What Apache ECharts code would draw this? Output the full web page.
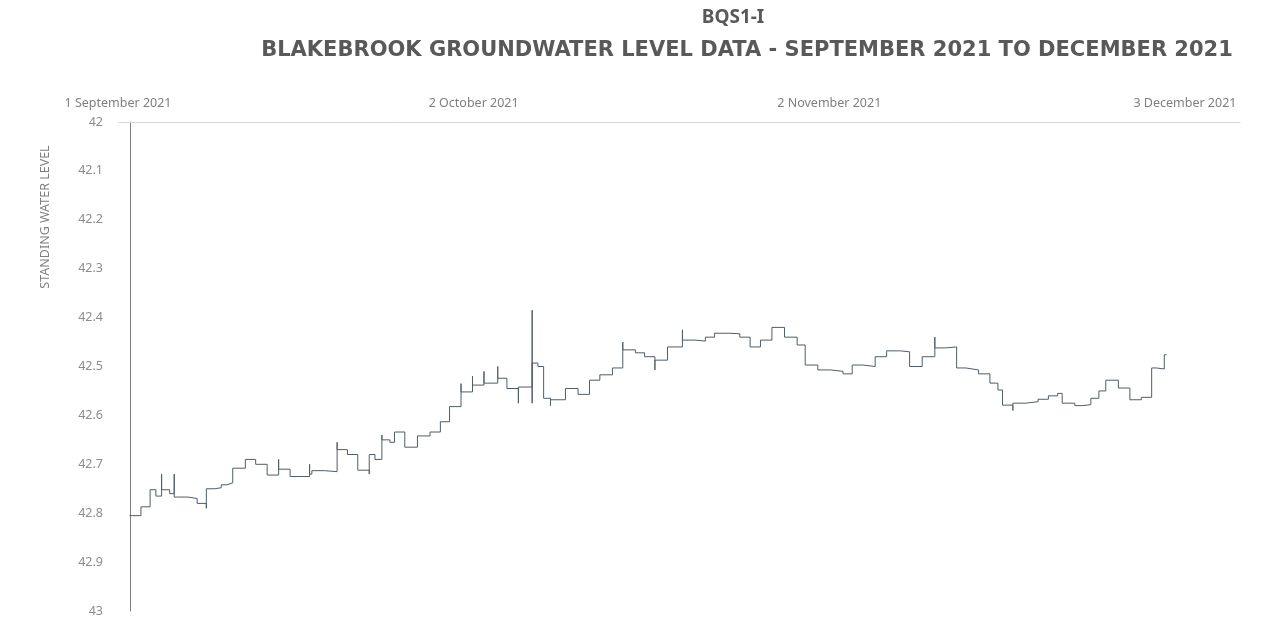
<!DOCTYPE html>
<html>
<head>
<meta charset="utf-8">
<script src="https://cdn.jsdelivr.net/npm/echarts@6/dist/echarts.min.js"></script>
<style>
  html, body { margin: 0; padding: 0; background: #fff; }
  #levelChart { width: 1262px; height: 640px; }
</style>
</head>
<body>
<div id="levelChart"></div>
<script>
// days after 1 September 2021 (repeated day = short spike in the logger trace)
const days = [
  1.0, 2.0, 2.8, 3.3, 3.8, 3.8, 4.5, 4.9, 4.9, 5.2, 6.1, 6.9, 7.7, 7.7, 8.4, 9.0, 9.5, 10.0,
  11.1, 12.0, 13.0, 14.0, 14.0, 15.0, 16.7, 16.7, 16.9, 18.0, 19.1, 19.1, 20.0, 20.9,
  21.9, 21.9, 22.4, 23.0, 23.0, 23.7, 24.1, 25.0, 26.1, 27.2, 28.1, 28.9, 29.9, 29.9,
  30.9, 30.9, 31.9, 31.9, 33.1, 33.1, 33.9, 34.9, 34.9, 36.1, 36.1, 36.1, 36.6, 37.1,
  37.7, 37.7, 39.0, 40.1, 41.1, 42.0, 43.1, 44.0, 44.0, 45.1, 45.9, 46.8, 46.8, 47.9,
  49.2, 49.2, 50.3, 51.2, 52.0, 53.2, 54.2, 55.1, 56.0, 57.0, 58.1, 59.2, 59.9, 61.0,
  62.1, 63.2, 64.0, 64.9, 66.0, 67.0, 68.2, 69.0, 70.1, 71.2, 71.2, 72.1, 73.1, 73.9,
  75.0, 76.0, 76.7, 77.1, 78.0, 78.0, 79.1, 80.2, 81.1, 81.9, 82.3, 83.4, 84.1, 84.8,
  85.5, 86.1, 87.2, 88.2, 89.2, 90.1, 90.5, 91.2, 91.4
];
const levels = [
  42.805, 42.787, 42.752, 42.765, 42.72, 42.752, 42.76, 42.72, 42.767, 42.767, 42.77, 42.78,
  42.79, 42.75, 42.748, 42.742, 42.738, 42.708, 42.69, 42.70, 42.722, 42.69, 42.71, 42.725,
  42.70, 42.72, 42.713, 42.715, 42.655, 42.67, 42.68, 42.712, 42.72, 42.68, 42.69, 42.64,
  42.65, 42.655, 42.634, 42.665, 42.642, 42.634, 42.613, 42.582, 42.535, 42.552, 42.52,
  42.538, 42.51, 42.534, 42.50, 42.524, 42.545, 42.575, 42.542, 42.385, 42.575, 42.493,
  42.50, 42.565, 42.58, 42.568, 42.545, 42.557, 42.528, 42.517, 42.503, 42.45, 42.466,
  42.472, 42.48, 42.507, 42.487, 42.46, 42.425, 42.446, 42.448, 42.44, 42.432, 42.433,
  42.44, 42.46, 42.446, 42.42, 42.44, 42.456, 42.497, 42.507, 42.51, 42.515, 42.497, 42.50,
  42.48, 42.468, 42.47, 42.50, 42.48, 42.44, 42.462, 42.46, 42.503, 42.507, 42.515, 42.534,
  42.548, 42.579, 42.59, 42.575, 42.572, 42.567, 42.56, 42.555, 42.575, 42.58, 42.578,
  42.565, 42.55, 42.528, 42.544, 42.568, 42.563, 42.503, 42.505, 42.476, 42.476
];
const levelTicks = [42, 42.1, 42.2, 42.3, 42.4, 42.5, 42.6, 42.7, 42.8, 42.9, 43];
const monthNames = ['January', 'February', 'March', 'April', 'May', 'June', 'July',
  'August', 'September', 'October', 'November', 'December'];

const DAY = 86400000;
const start = Date.UTC(2021, 8, 1);
const labelEvery = 31;   // labels every 31 days

let chart = echarts.init(document.getElementById('levelChart'));
let seriesData = days.map((d, i) => [d, levels[i]]);

let option = {
  backgroundColor: '#fff',
  animation: false,
  title: [
    {
      text: 'BQS1-I',
      left: 728, top: 3, textAlign: 'center',
      textStyle: { fontFamily: 'Noto Sans', fontSize: 19, fontWeight: 'bold', color: '#595959' }
    },
    {
      text: 'BLAKEBROOK GROUNDWATER LEVEL DATA - SEPTEMBER 2021 TO DECEMBER 2021',
      left: 742, top: 35, textAlign: 'center',
      textStyle: { fontFamily: 'DejaVu Sans', fontSize: 21, fontWeight: 'bold', color: '#595959' }
    }
  ],
  grid: { left: 118, right: 22, top: 122, bottom: 29 },
  xAxis: {
    type: 'value',
    position: 'top',
    min: 0,
    max: 97.8,
    interval: labelEvery,
    axisLine: { show: true, lineStyle: { color: '#d9d9d9', width: 1 } },
    axisTick: { show: false },
    splitLine: { show: false },
    axisLabel: {
      margin: 12,
      fontFamily: 'Noto Sans', fontSize: 12.5, color: '#7f7f7f',
      showMinLabel: true, showMaxLabel: true,
      formatter: function (v) {
        if (Math.abs(v / labelEvery - Math.round(v / labelEvery)) > 1e-6) return '';
        let dt = new Date(start + v * DAY);
        return dt.getUTCDate() + ' ' + monthNames[dt.getUTCMonth()] + ' ' + dt.getUTCFullYear();
      }
    }
  },
  yAxis: {
    type: 'value',
    inverse: true,
    min: levelTicks[0],
    max: levelTicks[levelTicks.length - 1],
    interval: 0.1,
    offset: -12,
    axisLine: { show: true, lineStyle: { color: '#7f7f7f', width: 1 } },
    axisTick: { show: false },
    splitLine: { show: false },
    axisLabel: {
      margin: 27,
      fontFamily: 'Noto Sans', fontSize: 12.5, color: '#8c8c8c',
      formatter: function (v) { return String(Math.round(v * 10) / 10); }
    }
  },
  graphic: [
    {
      type: 'text',
      x: 45, y: 217,
      rotation: Math.PI / 2,
      style: {
        text: 'STANDING WATER LEVEL',
        fontFamily: 'Noto Sans', fontSize: 12.5, fill: '#7f7f7f',
        align: 'center', verticalAlign: 'middle'
      }
    }
  ],
  series: [
    {
      name: 'BQS1-I',
      type: 'line',
      step: 'end',
      showSymbol: false,
      symbol: 'none',
      lineStyle: { color: '#4f5d68', width: 1 },
      data: seriesData
    }
  ]
};
chart.setOption(option);
</script>
</body>
</html>
